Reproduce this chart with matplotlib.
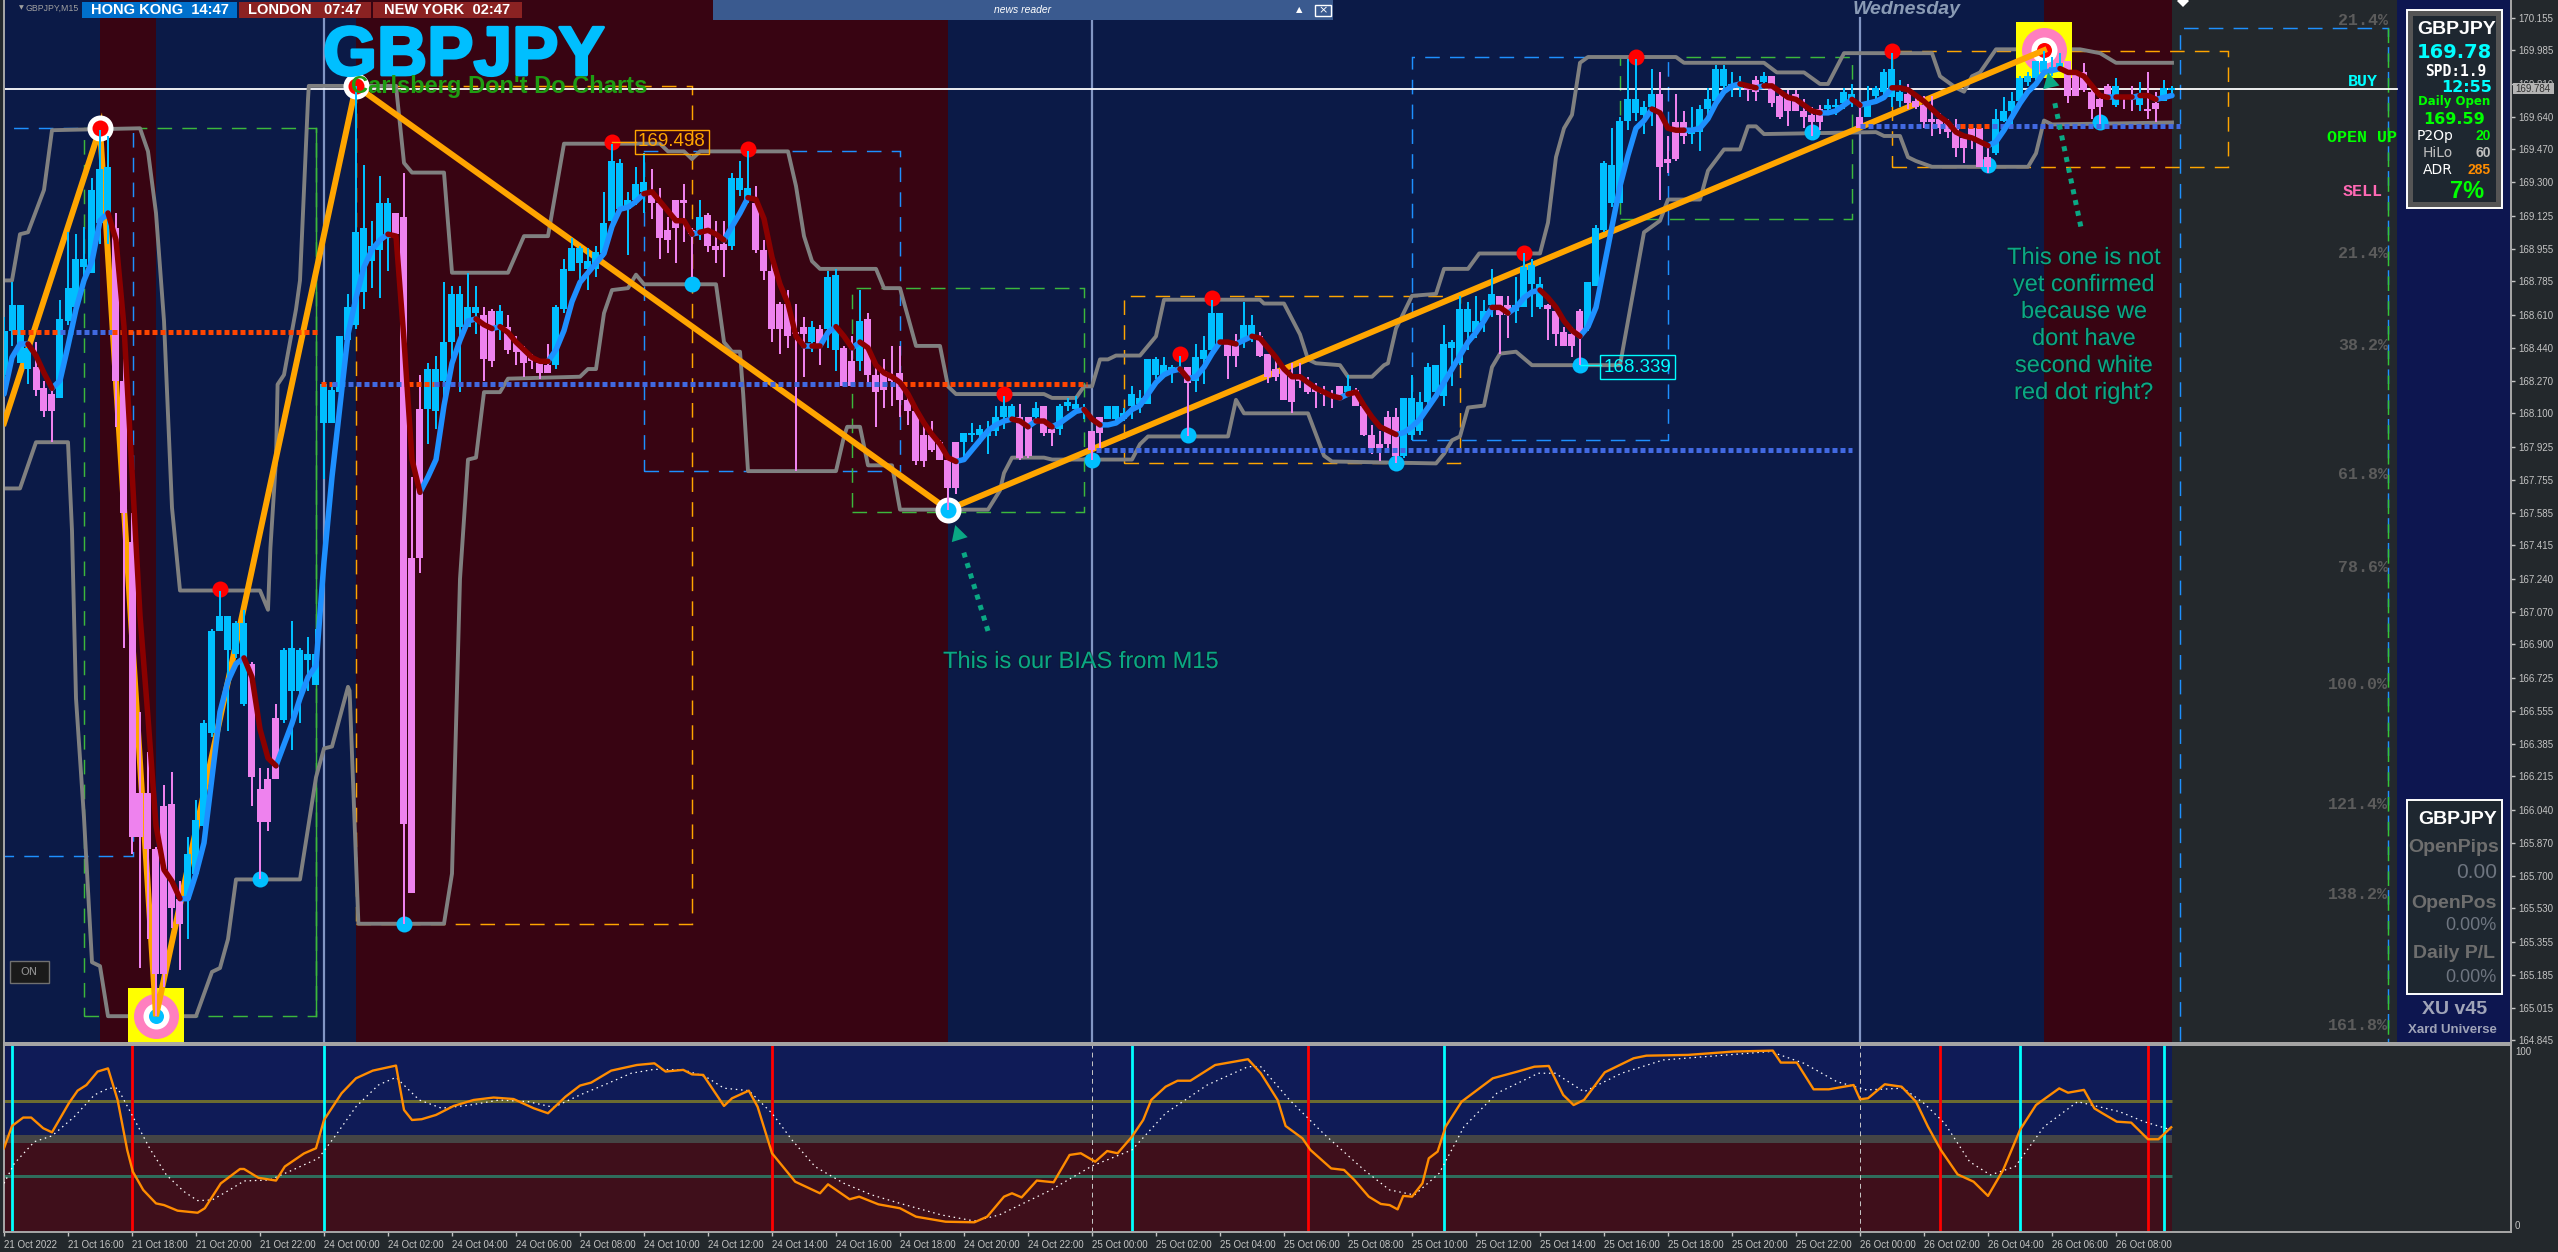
import numpy as np
import matplotlib
matplotlib.use("Agg")
import matplotlib.pyplot as plt
import matplotlib.patheffects as pe
from matplotlib.patches import Rectangle

W, H = 2558, 1252
PX = 0.72  # points per pixel at dpi 100

highs = [168.60,168.78,168.66,168.47,168.47,168.27,168.22,168.69,169.04,169.03,
 169.07,169.32,169.57,169.54,169.14,168.64,167.58,166.55,166.34,165.85,
 166.17,166.24,165.67,165.90,166.09,166.51,166.98,167.18,167.05,167.02,
 167.08,166.81,166.26,166.26,166.59,166.88,167.02,166.88,166.94,166.98,
 168.26,168.26,168.50,168.72,169.80,169.39,169.10,169.33,169.22,169.14,
 169.35,167.77,168.30,168.36,168.40,168.78,168.76,168.76,168.83,168.76,
 168.65,168.64,168.66,168.61,168.50,168.45,168.41,168.37,168.46,168.66,
 168.90,169.01,168.97,168.96,168.97,169.25,169.50,169.42,169.25,169.38,
 169.45,169.37,169.27,169.12,169.21,169.29,169.06,169.21,169.14,169.10,
 169.10,169.35,169.41,169.46,169.28,169.00,168.88,168.68,168.74,168.67,
 168.60,168.58,168.56,168.84,168.85,168.45,168.50,168.74,168.62,168.34,
 168.38,168.45,168.45,168.20,168.12,168.04,168.06,167.96,167.86,167.95,
 168.00,168.05,168.04,168.06,168.14,168.19,168.15,168.15,168.08,168.16,
 168.14,168.02,168.15,168.18,168.19,168.15,168.01,168.08,168.14,168.14,
 168.13,168.24,168.22,168.38,168.39,168.39,168.35,168.40,168.34,168.46,
 168.50,168.69,168.62,168.48,168.51,168.68,168.61,168.52,168.41,168.38,
 168.33,168.36,168.36,168.29,168.26,168.24,168.22,168.24,168.30,168.23,
 168.14,168.04,168.01,168.11,168.13,168.18,168.30,168.21,168.36,168.35,
 168.56,168.48,168.71,168.68,168.71,168.69,168.85,168.71,168.71,168.81,
 168.93,168.90,168.81,168.67,168.64,168.55,168.55,168.64,168.78,169.08,
 169.41,169.58,169.64,169.94,169.94,169.72,169.89,169.87,169.54,169.76,
 169.67,169.69,169.70,169.79,169.91,169.91,169.87,169.85,169.81,169.85,
 169.87,169.85,169.79,169.78,169.78,169.73,169.69,169.70,169.73,169.73,
 169.79,169.81,169.69,169.80,169.80,169.89,169.97,169.83,169.81,169.75,
 169.75,169.75,169.66,169.63,169.63,169.55,169.60,169.59,169.48,169.68,
 169.74,169.77,169.85,169.87,169.93,169.98,169.95,169.97,169.93,169.88,
 169.92,169.78,169.74,169.81,169.84,169.75,169.80,169.82,169.87,169.77,169.83,169.80]

body_tops = [168.53,168.66,168.66,168.44,168.34,168.23,168.20,168.59,168.75,168.90,
 168.90,169.26,169.37,169.38,169.06,168.27,167.43,166.13,166.13,165.84,
 166.06,166.07,165.58,165.81,165.99,166.49,166.97,167.05,167.05,167.01,
 167.01,166.80,166.15,166.20,166.52,166.87,166.88,166.87,166.85,166.85,
 168.25,168.22,168.50,168.65,169.04,169.06,168.97,169.19,169.19,169.14,
 169.12,167.35,168.12,168.33,168.33,168.47,168.72,168.72,168.65,168.65,
 168.61,168.63,168.63,168.55,168.47,168.43,168.39,168.36,168.35,168.65,
 168.85,168.96,168.96,168.89,168.94,169.09,169.41,169.40,169.21,169.29,
 169.30,169.25,169.19,169.05,169.21,169.21,169.05,169.12,169.13,168.97,
 168.98,169.32,169.32,169.27,169.19,168.95,168.84,168.67,168.67,168.52,
 168.55,168.55,168.54,168.81,168.82,168.44,168.37,168.58,168.59,168.30,
 168.32,168.29,168.31,168.17,168.11,167.99,167.99,167.95,167.86,167.95,
 168.00,168.00,168.02,168.01,168.08,168.14,168.14,168.08,168.08,168.13,
 168.14,168.02,168.14,168.16,168.15,168.12,168.01,168.08,168.14,168.14,
 168.10,168.20,168.18,168.38,168.38,168.35,168.34,168.33,168.34,168.39,
 168.43,168.62,168.62,168.46,168.46,168.56,168.56,168.50,168.41,168.33,
 168.33,168.30,168.29,168.26,168.23,168.21,168.20,168.24,168.24,168.22,
 168.14,167.99,167.94,168.08,168.08,168.18,168.18,168.16,168.34,168.35,
 168.46,168.47,168.64,168.64,168.58,168.63,168.72,168.71,168.66,168.66,
 168.86,168.87,168.77,168.66,168.63,168.52,168.51,168.63,168.78,169.06,
 169.40,169.39,169.62,169.73,169.73,169.69,169.76,169.76,169.42,169.61,
 169.61,169.58,169.68,169.73,169.89,169.89,169.81,169.82,169.80,169.83,
 169.85,169.85,169.75,169.74,169.76,169.67,169.65,169.68,169.70,169.70,
 169.77,169.76,169.64,169.71,169.79,169.87,169.89,169.77,169.76,169.72,
 169.70,169.63,169.63,169.61,169.58,169.53,169.58,169.58,169.43,169.63,
 169.67,169.72,169.84,169.85,169.93,169.93,169.90,169.92,169.93,169.87,
 169.87,169.77,169.73,169.80,169.80,169.74,169.75,169.76,169.68,169.71,169.79,169.79]

body_bottoms = [168.30,168.53,168.36,168.33,168.22,168.11,168.11,168.18,168.58,168.65,
 168.86,168.83,169.09,169.11,168.27,167.58,165.90,165.90,165.84,165.19,
 165.19,165.53,165.45,165.58,165.71,165.96,166.44,166.97,166.87,166.85,
 166.59,166.21,165.98,165.98,166.20,166.51,166.66,166.66,166.82,166.69,
 168.05,168.05,168.21,168.48,168.56,168.73,168.89,168.95,169.01,169.03,
 165.97,165.61,167.35,168.12,168.11,168.27,168.47,168.55,168.55,168.62,
 168.38,168.37,168.56,168.43,168.42,168.36,168.37,168.31,168.31,168.35,
 168.64,168.84,168.88,168.85,168.85,168.93,169.10,169.16,169.16,169.21,
 169.25,169.19,169.01,169.00,169.06,169.19,169.03,169.05,168.97,168.95,
 168.95,168.97,169.26,169.21,168.95,168.84,168.54,168.54,168.50,168.51,
 168.51,168.47,168.46,168.54,168.43,168.24,168.24,168.37,168.30,168.21,
 168.22,168.27,168.17,168.11,167.85,167.85,167.91,167.86,167.71,167.71,
 167.95,167.99,167.99,167.98,168.01,168.08,168.08,167.87,167.88,168.08,
 168.00,168.00,168.02,168.14,168.12,168.11,167.91,168.00,168.07,168.07,
 168.07,168.14,168.15,168.15,168.30,168.30,168.32,168.32,168.26,168.27,
 168.38,168.43,168.46,168.40,168.40,168.48,168.50,168.40,168.29,168.29,
 168.17,168.16,168.27,168.21,168.21,168.20,168.19,168.18,168.21,168.14,
 167.99,167.92,167.92,167.94,167.88,167.88,167.99,168.01,168.16,168.21,
 168.19,168.44,168.36,168.52,168.52,168.58,168.66,168.61,168.61,168.63,
 168.65,168.77,168.65,168.64,168.51,168.45,168.45,168.51,168.55,168.76,
 169.05,169.19,169.19,169.62,169.66,169.65,169.69,169.38,169.40,169.42,
 169.54,169.55,169.56,169.68,169.72,169.80,169.80,169.79,169.78,169.77,
 169.82,169.71,169.64,169.67,169.67,169.64,169.61,169.61,169.68,169.69,
 169.71,169.71,169.58,169.64,169.75,169.77,169.74,169.72,169.71,169.69,
 169.61,169.61,169.58,169.56,169.48,169.48,169.53,169.38,169.38,169.45,
 169.62,169.67,169.72,169.82,169.84,169.87,169.87,169.89,169.75,169.75,
 169.78,169.68,169.69,169.74,169.70,169.73,169.73,169.70,169.67,169.68,169.72,169.78]

lows = [168.20,168.45,168.36,168.25,168.19,168.08,167.95,168.18,168.56,168.64,
 168.76,168.83,168.98,168.98,168.03,166.88,165.81,165.22,165.37,164.97,
 165.12,165.43,165.21,165.37,165.68,165.90,166.42,166.97,166.45,166.83,
 166.58,166.06,165.68,165.93,166.20,166.49,166.35,166.49,166.66,166.69,
 167.76,168.05,168.21,168.48,168.54,168.64,168.75,168.70,168.84,169.03,
 165.45,165.61,167.27,167.94,168.02,168.13,168.36,168.21,168.55,168.51,
 168.27,168.34,168.48,168.41,168.35,168.29,168.33,168.28,168.31,168.33,
 168.62,168.84,168.80,168.74,168.81,168.91,169.09,169.16,168.92,169.18,
 169.14,169.11,168.90,168.93,168.88,168.99,168.81,169.00,168.94,168.88,
 168.81,168.95,169.23,169.19,168.93,168.79,168.47,168.41,168.44,167.80,
 168.29,168.42,168.35,168.44,168.32,168.24,168.24,168.32,168.26,168.03,
 168.13,168.14,168.08,168.04,167.83,167.82,167.90,167.86,167.60,167.68,
 167.85,167.95,167.94,167.89,167.98,168.02,168.07,167.86,167.87,168.07,
 167.98,167.93,167.99,168.11,168.10,168.07,167.86,167.92,168.07,168.06,
 168.06,168.07,168.10,168.15,168.28,168.29,168.26,168.31,167.98,168.21,
 168.25,168.43,168.46,168.28,168.34,168.44,168.47,168.39,168.26,168.27,
 168.17,168.10,168.23,168.20,168.13,168.14,168.13,168.17,168.20,168.14,
 167.98,167.89,167.85,167.92,167.84,167.87,167.96,167.99,168.15,168.20,
 168.14,168.24,168.35,168.43,168.49,168.52,168.60,168.41,168.49,168.57,
 168.65,168.60,168.64,168.48,168.45,168.45,168.39,168.35,168.53,168.76,
 169.04,169.17,169.19,169.57,169.62,169.55,169.59,169.21,169.35,169.41,
 169.50,169.50,169.46,169.62,169.71,169.78,169.74,169.74,169.72,169.72,
 169.80,169.69,169.63,169.59,169.67,169.58,169.54,169.57,169.67,169.65,
 169.68,169.69,169.58,169.64,169.71,169.75,169.69,169.69,169.68,169.68,
 169.58,169.54,169.55,169.53,169.43,169.40,169.47,169.38,169.35,169.44,
 169.61,169.59,169.71,169.80,169.83,169.85,169.85,169.87,169.71,169.75,
 169.77,169.63,169.60,169.73,169.69,169.68,169.67,169.67,169.63,169.61,169.72,169.74]

bull_runs = [(0,3),(7,13),(23,30),(35,48),(53,59),(62,62),(69,80),(87,87),(91,93),(101,101),
             (103,104),(107,107),(120,126),(129,129),(132,135),(138,147),(149,152),(155,156),
             (168,168),(175,186),(189,192),(198,206),(211,217),(220,220),(228,231),(233,237),
             (249,257),(264,264),(267,267),(270,271)]

fast_ma = [168.20,168.39,168.46,168.46,168.40,168.31,168.23,168.27,168.45,168.64,
 168.79,168.89,169.10,169.14,169.00,168.55,167.80,167.05,166.52,165.96,
 165.73,165.67,165.58,165.58,165.71,165.87,166.21,166.55,166.71,166.80,
 166.83,166.73,166.46,166.31,166.27,166.38,166.49,166.62,166.73,166.79,
 167.33,167.77,168.14,168.51,168.70,168.86,168.95,169.00,169.03,169.02,
 168.48,167.86,167.69,167.77,167.86,168.14,168.36,168.48,168.58,168.59,
 168.56,168.54,168.55,168.52,168.47,168.43,168.39,168.37,168.37,168.43,
 168.53,168.68,168.78,168.83,168.88,168.93,169.07,169.16,169.17,169.20,
 169.24,169.25,169.20,169.15,169.10,169.10,169.03,169.04,169.05,169.03,
 169.00,169.07,169.14,169.22,169.21,169.11,168.91,168.77,168.67,168.50,
 168.45,168.45,168.45,168.52,168.55,168.50,168.44,168.47,168.44,168.35,
 168.31,168.29,168.26,168.20,168.12,168.05,167.99,167.94,167.87,167.85,
 167.86,167.91,167.96,168.01,168.04,168.06,168.07,168.06,168.03,168.06,
 168.06,168.03,168.05,168.08,168.11,168.12,168.07,168.04,168.04,168.05,
 168.08,168.12,168.14,168.20,168.26,168.30,168.32,168.33,168.28,168.29,
 168.34,168.41,168.47,168.47,168.46,168.48,168.50,168.49,168.44,168.39,
 168.33,168.29,168.29,168.26,168.23,168.21,168.19,168.18,168.20,168.21,
 168.14,168.08,168.03,168.01,167.99,168.00,168.03,168.07,168.13,168.19,
 168.26,168.33,168.40,168.47,168.52,168.58,168.65,168.65,168.62,168.65,
 168.70,168.73,168.74,168.70,168.65,168.58,168.53,168.50,168.55,168.65,
 168.86,169.07,169.28,169.44,169.58,169.62,169.68,169.66,169.58,169.57,
 169.57,169.57,169.58,169.63,169.71,169.77,169.80,169.81,169.80,169.79,
 169.80,169.80,169.77,169.74,169.73,169.70,169.67,169.66,169.66,169.67,
 169.70,169.73,169.70,169.71,169.72,169.74,169.79,169.79,169.78,169.75,
 169.72,169.68,169.64,169.61,169.56,169.54,169.53,169.51,169.49,169.51,
 169.57,169.64,169.71,169.77,169.81,169.87,169.88,169.89,169.87,169.87,
 169.85,169.80,169.75,169.74,169.74,169.74,169.74,169.75,169.75,169.73,169.74,169.75]

# bars where the line flips colour, starting on blue
ma_turns = [0,3,6,13,22,30,34,48,52,59,61,62,68,80,86,87,90,93,100,101,102,104,106,107,119,126,128,129,
            131,135,137,147,148,152,154,156,167,168,174,186,188,192,197,206,210,217,219,220,227,231,232,
            236,248,257,263,264,266,267,269,271]

upper_bars = [0,1,2,3,5,6,17,18,19,20,21,22,32,33,33.3,34,34.2,35,36.5,37,38,38.1,49,50,51,55,56,63,65,68,70,82,
 83,85,86,87,98,99,100,101,102,109,110,112,114,117,118,119,130,131,134,135,136,137,138,139,142,144,145,157,157.5,
 160,162,163,164,167,168,171,172.5,173,174,176,179,180,183,184.4,192,193,194,195,196,197,198,209,210,220,221.6,
 225,227,228,229.5,230,241,242,244,245,246,247,249,259.5,262,264,271]
upper_prices = [168.79,168.79,169.03,169.04,169.26,169.57,169.58,169.46,169.14,168.58,167.61,167.18,167.18,167.08,167.40,
 167.86,168.25,168.30,168.64,168.79,169.73,169.80,169.80,169.40,169.35,169.35,168.83,168.83,169.02,169.02,169.50,169.50,
 169.46,169.46,169.42,169.46,169.46,169.28,169.02,168.89,168.85,168.85,168.75,168.75,168.45,168.45,168.24,168.20,168.20,
 168.18,168.18,168.24,168.24,168.38,168.38,168.40,168.40,168.50,168.69,168.69,168.67,168.67,168.51,168.38,168.36,168.35,
 168.29,168.29,168.35,168.36,168.54,168.71,168.72,168.85,168.85,168.93,168.93,169.09,169.43,169.58,169.65,169.92,169.95,
 169.95,169.92,169.92,169.87,169.87,169.81,169.81,169.93,169.97,169.97,169.85,169.79,169.77,169.85,169.87,169.99,169.99,
 169.97,169.92,169.92]

lower_bars = [0,2,4,8,8.5,9,10,11,12,13,24,26,27,28,29,37,39,40,41,43,43.2,44,44.3,55,56,57,58,59,60,62,63,72,73,74,75,76,78,79,
 80,89,90,91,92,92.4,93,104,105,105.4,107,108,111,112,123,124.5,125,126,130,131,141,142,143,153,154,155,163,165,166,179,180,181,
 182,183,185,186,187,189,191,202,205,207,208,212,213,215,217,218,219,220,234,235,237,238,239,241,253,254,255,256,271]
lower_prices = [167.71,167.71,167.95,167.95,167.49,166.62,166.00,165.25,165.23,164.97,164.97,165.20,165.22,165.37,165.68,
 165.68,166.21,166.36,166.37,166.68,166.66,165.78,165.45,165.45,165.71,167.24,167.86,167.87,168.21,168.21,168.28,168.29,168.33,
 168.33,168.62,168.74,168.75,168.82,168.77,168.77,168.47,168.42,168.42,168.20,167.80,167.80,167.98,168.03,168.03,167.83,167.83,
 167.60,167.60,167.70,167.79,167.87,167.87,167.86,167.86,167.94,167.98,167.98,168.17,168.10,168.10,167.88,167.85,167.84,167.89,
 167.96,167.98,168.13,168.14,168.34,168.41,168.42,168.35,168.35,169.04,169.10,169.21,169.21,169.36,169.47,169.47,169.59,169.59,
 169.55,169.56,169.54,169.54,169.43,169.41,169.38,169.38,169.45,169.62,169.60,169.61]

zig_bars = [0,12,19,44,118,255]
zig_prices = [168.05,169.58,164.97,169.80,167.60,169.985]

red_dot_bars = [27,76,93,125,147,151,190,204,236]
red_dot_prices = [167.19,169.51,169.47,168.20,168.41,168.70,168.93,169.95,169.98]
blue_dot_bars = [32,50,86,136,148,174,197,226,248,262]
blue_dot_prices = [165.68,165.45,168.77,167.86,167.99,167.84,168.35,169.56,169.39,169.61]
ring_red_bars = [12,44]
ring_red_prices = [169.58,169.80]
ring_blue_bars = [118]
ring_blue_prices = [167.60]

level_starts = [1,7,13.5,39.6,41,50.5,53.7,112.2,136.5,232,244.5,248.5]
level_ends = [7,13.5,39.5,41,50.5,53.7,112.2,135.4,231,244.5,248.5,272]
level_prices = [168.52,168.52,168.52,168.25,168.25,168.25,168.25,168.25,167.91,169.59,169.59,169.59]
level_hot = [True,False,True,True,False,True,False,True,False,False,True,False]

box_left = [10,-1,44,80,106,140,176,202,236,272]
box_right = [39,16.1,86,112,135,182,208,231,278,298]
box_top = [169.58,169.58,169.80,169.46,168.75,168.71,169.95,169.95,169.98,170.10]
box_bottom = [164.97,165.80,165.45,167.80,167.59,167.84,167.96,169.11,169.38,164.70]
box_color = ['#3cb83c','#1e90ff','#ffa500','#1e90ff','#3cb83c','#ffa500','#1e90ff','#3cb83c','#ffa500','#1e90ff']

maroon_spans = [(12,19),(44,118),(255,271)]
day_lines = [40,136,232]

price_ticks = [170.155,169.985,169.810,169.640,169.470,169.300,169.125,168.955,168.785,168.610,168.440,168.270,
 168.100,167.925,167.755,167.585,167.415,167.240,167.070,166.900,166.725,166.555,166.385,166.215,166.040,
 165.870,165.700,165.530,165.355,165.185,165.015,164.845]
time_labels = ['21 Oct 2022','21 Oct 16:00','21 Oct 18:00','21 Oct 20:00','21 Oct 22:00',
 '24 Oct 00:00','24 Oct 02:00','24 Oct 04:00','24 Oct 06:00','24 Oct 08:00','24 Oct 10:00','24 Oct 12:00',
 '24 Oct 14:00','24 Oct 16:00','24 Oct 18:00','24 Oct 20:00','24 Oct 22:00',
 '25 Oct 00:00','25 Oct 02:00','25 Oct 04:00','25 Oct 06:00','25 Oct 08:00','25 Oct 10:00','25 Oct 12:00',
 '25 Oct 14:00','25 Oct 16:00','25 Oct 18:00','25 Oct 20:00','25 Oct 22:00',
 '26 Oct 00:00','26 Oct 02:00','26 Oct 04:00','26 Oct 06:00','26 Oct 08:00']

fib_labels = ['21.4%','21.4%','38.2%','61.8%','78.6%','100.0%','121.4%','138.2%','161.8%']
fib_prices = [170.14,168.93,168.45,167.78,167.30,166.69,166.07,165.60,164.92]

stoch_bars = [0,1,2.4,3.4,4.9,6,8.1,9.2,10.3,11.7,13,14.2,15.4,16.1,17.4,19,20,21.7,24.2,25.1,27.1,29.5,30,31.8,34,35.1,37.5,39,
 40,42.2,44,46.1,49,50,51,52.2,54,56.2,58.7,61.2,63.7,66.2,68,70.2,72,73.4,75.9,79.1,81.3,82.7,84.9,86,87.4,90,91,93.1,94.2,96,
 98.9,102,103,105.7,106.9,109.3,112,114,117.7,121.3,122.9,125,126,127.2,129.1,131.2,133.2,134.6,136.4,137.9,139.2,141,142.4,143.4,
 145.2,146.7,148.3,151.4,155.5,157.1,159.2,160.2,162.3,163.3,165.9,167.5,168.8,170.6,172.1,173.2,174.2,174.9,176,177.3,178.1,179.2,
 180.2,182.2,186.1,189.2,191.3,193.1,194.9,196.2,197.5,200.1,203.7,205.3,210.5,216.2,221.1,222.1,224.1,226.2,228.1,231.2,232,233,
 235.1,237.2,239,240.5,242.1,244.2,246.2,248,249.9,252,254,256.9,258,260,261.3,262.3,264.1,265.9,268,269.3,270.9]
stoch_main = [44.8,56.7,61.2,61.2,55.5,53.3,68.8,75.6,78.6,85.8,87.5,70.6,43.9,32.3,22.5,15.3,14.4,11.4,10.3,12.7,26,33.7,33.7,29,27.5,35,42,44.8,
 59.9,74.2,82.2,86.3,89,65.3,59.9,60.3,62.6,67.4,70.6,71.9,71.1,66.2,63.5,72.4,78.3,79.9,86.3,89.3,90.2,85.8,86.7,84.3,84,67.4,71.5,75.6,67,42.1,
 26.9,20.7,25.5,17.5,18.9,14.8,12.7,8.2,5.5,5.2,8.2,18.9,20.7,18.5,27.5,26.6,41.2,42.1,37.6,43.3,42.1,51,59.9,70.6,
 77.7,80.9,80.9,89.3,92.4,84.9,70.6,56.7,50.1,43.9,34,33.2,27.8,18.9,15,14.4,12.1,19.3,18.9,26,39.4,43,
 56.3,69.7,82.2,85.8,88.4,88.8,73.3,67.9,70.6,85.4,92.9,94.3,94.7,96.5,97,90.6,90.6,76.3,76.3,78.6,71,71.5,
 79,77.7,69.7,56.3,43.9,30.8,26.9,19.3,33.2,54.6,67.9,76.8,74.5,76,66.1,63.5,59,58.5,49.6,49.6,56]

signal_bars = [0,1.3,3.8,6,8.8,11.3,13.1,14.2,16,18.2,20.3,22.5,24.2,26,28.2,30,33.2,36.1,39.3,41.5,44,46.8,49,51.9,54.7,58.3,61.9,65.5,68.7,72,
 75.5,78.4,81.3,84.9,87.7,90,93.1,96,98.5,101.4,105,108.5,112,117.2,121.3,124.4,130.7,136,141,145.2,150.4,155.5,157.1,160.7,164.9,170,173.2,
 176.3,179.4,182.5,186.6,191.8,193.9,197.5,202.2,207.4,220.8,225,229.1,232.8,237.4,240,242.6,245.7,248.3,251.4,255,259.2,264.4,267.5,270.9]
signal_vals = [26,36.7,48.3,51.4,61.7,73.3,76.9,76.9,62.6,44.8,30.5,21.6,16.8,17.1,22.5,27.3,27.8,33.2,39.4,51.9,67,78.6,82.7,70.6,66.2,67.9,70.6,69.7,66.7,73.3,
 79.5,84.9,87,86.7,83.1,76.9,75.6,63.5,49.2,34.9,26,19.8,15.3,9.1,5.9,9.1,22.1,35.3,43.9,63.5,78.6,88.4,88.4,70.6,52.8,33.2,22.5,
 19.8,31.4,56.3,74.2,84.9,84.9,75,84.9,92,96.5,90.2,80.4,76,76.9,68.8,58.1,37.6,30.5,35,56.3,69.7,64.4,59,54.6]

cross_up_bars = [1,40,141,180,252,270]
cross_down_bars = [16,96,163,242,268]

BG = '#23282c'
NAVY = '#0b1a47'
MAROON = '#380412'
GREY = '#a8a8a8'
SANS = 'Liberation Sans'
MONO = 'Liberation Mono'

plt.rcParams['font.family'] = SANS
fig = plt.figure(figsize=(W / 100, H / 100), dpi=100, facecolor=BG)
ax = fig.add_axes([4 / W, 1 - 1043 / H, 2507 / W, 1043 / H], facecolor=BG)
ax2 = fig.add_axes([4 / W, 1 - 1232 / H, 2507 / W, 187 / H], facecolor=BG)
XMAX = 2507 / 8

def put(x, y, s, **kw):
    kw.setdefault('va', 'center')
    kw.setdefault('zorder', 30)
    return fig.text(x / W, 1 - y / H, s, **kw)

def panel(x0, y0, x1, y1, **kw):
    kw.setdefault('zorder', 20)
    fig.add_artist(Rectangle((x0 / W, 1 - y1 / H), (x1 - x0) / W, (y1 - y0) / H, transform=fig.transFigure, **kw))

# main chart
ax.set_xlim(0, XMAX)
ax.set_ylim(170.246 - 1043 * 0.005192, 170.246)
ax.axvspan(0, 271, color=NAVY, lw=0, zorder=0)
ax.axvspan(299.1, XMAX, color='#0d1650', lw=0, zorder=0)
for a, b in maroon_spans:
    ax.axvspan(a, b, color=MAROON, lw=0, zorder=0.5)

for i in range(len(box_left)):
    ax.add_patch(Rectangle((box_left[i], box_bottom[i]), box_right[i] - box_left[i], box_top[i] - box_bottom[i],
                           fill=False, ec=box_color[i], lw=1.05, ls=(0, (10, 7)), zorder=1))
ax.plot([39, 39], [169.58, 164.97], color='#3cb83c', lw=1.05, zorder=1.1)
ax.plot([298, 298], [170.10, 164.70], color='#35c435', lw=1.05, ls=(0, (10, 7)), zorder=1.1)

for d in day_lines:
    ax.plot([d, d], [170.155, 164.7], color='#8296c4', lw=1.6, zorder=1.2)
ax.axhline(169.784, xmax=299.1 / XMAX, color='white', lw=1.3, zorder=1.3)

ax.plot(upper_bars, upper_prices, color='#808080', lw=2.8, zorder=2)
ax.plot(lower_bars, lower_prices, color='#808080', lw=2.8, zorder=2)

# yellow target boxes
for b, p, c in [(19, 164.97, '#00bfff'), (255, 169.985, '#ff0000')]:
    ax.plot(b, p, 's', ms=56 * PX, color='#ffff00', mew=0, zorder=2.5)
    ax.plot(b, p, 'o', ms=45 * PX, color='#ff7fbf', mew=0, zorder=2.6)
    ax.plot(b, p, 'o', ms=26 * PX, color='white', mew=0, zorder=2.7)
    ax.plot(b, p, 'o', ms=15 * PX, color=c, mew=0, zorder=2.8)

ax.plot(red_dot_bars, red_dot_prices, 'o', ms=16 * PX, color='#ff0000', mew=0, zorder=3)
ax.plot(blue_dot_bars, blue_dot_prices, 'o', ms=16 * PX, color='#00bfff', mew=0, zorder=3)
ax.plot(zig_bars, zig_prices, color='#ffa500', lw=6 * PX, zorder=3.5, solid_joinstyle='miter')

ax.plot(ring_red_bars, ring_red_prices, 'o', ms=26 * PX, color='white', mew=0, zorder=3.6)
ax.plot(ring_red_bars, ring_red_prices, 'o', ms=16 * PX, color='#ff0000', mew=0, zorder=3.7)
ax.plot(ring_blue_bars, ring_blue_prices, 'o', ms=26 * PX, color='white', mew=0, zorder=3.6)
ax.plot(ring_blue_bars, ring_blue_prices, 'o', ms=16 * PX, color='#00bfff', mew=0, zorder=3.7)

# candles
bars_x = np.arange(len(highs))
is_bull = np.zeros(len(highs), dtype=bool)
for a, b in bull_runs:
    is_bull[a:b + 1] = True
candle_colors = np.where(is_bull, '#00bfff', '#ee82ee')
ax.vlines(bars_x, lows, highs, colors=candle_colors, lw=2 * PX, zorder=4)
tops = np.array(body_tops)
bots = np.array(body_bottoms)
ax.bar(bars_x, np.maximum(tops - bots, 0.005), bottom=bots, width=7 / 8, color=candle_colors, lw=0, zorder=4.1,
       antialiased=False)

# dotted levels
for i in range(len(level_starts)):
    col = '#ff4500' if level_hot[i] else '#4169e1'
    ax.plot([level_starts[i], level_ends[i]], [level_prices[i]] * 2, color=col, lw=5 * PX, ls=(0, (1, 0.6)),
            dash_capstyle='butt', zorder=4.5)

# fast average, blue and dark red legs
for k in range(len(ma_turns) - 1):
    a, b = ma_turns[k], ma_turns[k + 1]
    col = '#1e90ff' if k % 2 == 0 else '#8b0000'
    ax.plot(bars_x[a:b + 1], fast_ma[a:b + 1], color=col, lw=5.5 * PX, solid_capstyle='round', zorder=5 if k % 2 == 0 else 5.1)

# price tags
ax.plot([76, 79], [169.51, 169.51], color='#ffa500', lw=1, zorder=3)
ax.plot([197, 199.6], [168.35, 168.35], color='#00ffff', lw=1, zorder=3)
tag = dict(fontsize=13.5, va='center', ha='center', zorder=6)
ax.text(83.5, 169.51, '169.498', color='#ffa500', bbox=dict(fc='none', ec='#ffa500', lw=1, pad=2.5), **tag)
ax.text(204.2, 168.34, '168.339', color='#00ffff', bbox=dict(fc='none', ec='#00ffff', lw=1, pad=2.5), **tag)

# dotted arrows
TEAL = '#0aa884'
for tail, mid, tip in [((123, 166.97), (119.8, 167.40), (118.9, 167.52)), ((259.6, 169.07), (256.2, 169.74), (255.5, 169.87))]:
    ax.plot([tail[0], mid[0]], [tail[1], mid[1]], color=TEAL, lw=5 * PX, ls=(0, (1, 1.2)), dash_capstyle='butt', zorder=6)
    ax.annotate('', xy=tip, xytext=mid, zorder=6,
                arrowprops=dict(arrowstyle='-|>,head_length=1.1,head_width=0.6', color=TEAL, lw=0, shrinkA=0, shrinkB=0))

for s, p in zip(fib_labels, fib_prices):
    ax.text(298, p, s, family=MONO, fontweight='bold', fontsize=12, color='#5c5c5c', ha='right', va='center', zorder=6)
ax.plot(272.4, 170.24, 'D', ms=6, color='white', mew=0, zorder=6, clip_on=True)

ax.spines['top'].set_visible(False)
for s in ['left', 'right', 'bottom']:
    ax.spines[s].set_color(GREY)
    ax.spines[s].set_linewidth(1.4)
ax.set_xticks([])
ax.yaxis.tick_right()
ax.set_yticks(price_ticks)
ax.set_yticklabels([f'{v:.3f}' for v in price_ticks])
ax.tick_params(axis='y', colors='#c4c4c4', labelsize=7, length=3, width=1, pad=2)

# oscillator
ax2.set_xlim(0, XMAX)
ax2.set_ylim(0, 100)
ax2.axvspan(0, 271, ymin=0.5, ymax=1, color='#0f1b57', lw=0, zorder=0)
ax2.axvspan(0, 271, ymin=0, ymax=0.5, color='#3f0f1b', lw=0, zorder=0)
ax2.plot([0, 271], [50, 50], color='#454545', lw=8 * PX, solid_capstyle='butt', zorder=1)
ax2.plot([0, 271], [70, 70], color='#6c6c30', lw=3 * PX, solid_capstyle='butt', zorder=1)
ax2.plot([0, 271], [30, 30], color='#2f6d5c', lw=3 * PX, solid_capstyle='butt', zorder=1)
for d in day_lines[1:]:
    ax2.axvline(d, color='#c8c8c8', lw=0.7, ls=(0, (5, 4)), zorder=1.2)
ax2.vlines(cross_up_bars, 0, 100, color='#00ffff', lw=2, zorder=2)
ax2.vlines(cross_down_bars, 0, 100, color='#ff0000', lw=2, zorder=2)
ax2.plot(signal_bars, signal_vals, color='white', lw=0.9, ls=(0, (1.2, 3)), zorder=3)
ax2.plot(stoch_bars, stoch_main, color='#ff8c00', lw=1.7, zorder=4)
for s in ax2.spines.values():
    s.set_color(GREY)
    s.set_linewidth(1.4)
ax2.set_yticks([])
ax2.set_xticks(np.arange(len(time_labels)) * 8)
ax2.set_xticklabels(time_labels, ha='left')
ax2.tick_params(axis='x', colors='#c4c4c4', labelsize=7, length=3, width=1, pad=3)
put(2515, 1052, '100', color='#c4c4c4', fontsize=7)
put(2515, 1226, '0', color='#c4c4c4', fontsize=7)

# top-left strip
put(19, 8, '\u25bc', color='#a0a0a0', fontsize=4.5, family='DejaVu Sans')
put(26, 8, 'GBPJPY,M15', color='#a0a0a0', fontsize=6.3)
for x0, x1, col, s in [(82, 237, '#0070cc', 'HONG KONG  14:47'), (239, 371, '#8b2222', 'LONDON   07:47'), (373, 522, '#8b2222', 'NEW YORK  02:47')]:
    panel(x0, 2, x1, 18, fc=col, ec='none')
    put((x0 + x1) / 2, 10, s, color='white', fontsize=10.5, fontweight='bold', ha='center')
panel(713, 0, 1333, 20, fc='#3a5a8f', ec='none')
put(1023, 10, 'news reader', color='white', fontsize=7.5, style='italic', ha='center')
put(1299, 10, '\u25b2', color='white', fontsize=6, ha='center', family='DejaVu Sans')
panel(1315, 5, 1331, 16, fc='#3a5a8f', ec='white', lw=1)
put(1323, 10, '\u00d7', color='white', fontsize=8, ha='center', family='DejaVu Sans')

put(464, 75, 'GBPJPY', color='#00bfff', fontsize=50, fontweight='bold', ha='center', va='baseline', zorder=15,
    path_effects=[pe.SimpleLineShadow(offset=(2, -2), shadow_color='black', alpha=0.9),
                  pe.Stroke(linewidth=2, foreground='#00bfff'), pe.Normal()])
put(499, 87, "Carlsberg Don't Do Charts", color='#1f9d12', fontsize=17, fontweight='bold', ha='center', zorder=15)
put(1907, 9, 'Wednesday', color='#8a9bb5', fontsize=14, fontweight='bold', style='italic', ha='center', zorder=15)

shadow = [pe.withStroke(linewidth=1.5, foreground='#10141c', alpha=0.5)]
put(1081, 662, 'This is our BIAS from M15', color=TEAL, fontsize=17, ha='center', path_effects=shadow)
note_lines = ['This one is not', 'yet confirmed', 'because we', 'dont have', 'second white', 'red dot right?']
for k, line in enumerate(note_lines):
    put(2084, 258 + k * 27, line, color=TEAL, fontsize=17, ha='center', path_effects=shadow)

put(2363, 82, 'BUY', color='#00ffff', fontsize=12, fontweight='bold', family=MONO, ha='center')
put(2362, 137, 'OPEN UP', color='#00ff00', fontsize=12, fontweight='bold', family=MONO, ha='center')
put(2363, 192, 'SELL', color='#ff69b4', fontsize=12, fontweight='bold', family=MONO, ha='center')

panel(10, 961, 49, 983, fc='#1a1a1a', ec='#707070', lw=1)
put(29, 972, 'ON', color='#909090', fontsize=8, ha='center', family='DejaVu Sans')

# current price tag
panel(2513, 83, 2554, 94, fc='#b4b4b4', ec='none')
put(2533, 88.5, '169.784', color='#303030', fontsize=7, ha='center')

# info panel, top
panel(2407, 10, 2502, 208, fc='#555555', ec='white', lw=1.4)
panel(2413, 16, 2496, 202, fc='#1e2730', ec='none', zorder=21)
info = dict(fontweight='bold', ha='center', family='DejaVu Sans')
put(2457, 30, 'GBPJPY', color='white', fontsize=14, fontweight='bold', ha='center')
put(2454, 52, '169.78', color='#00ffff', fontsize=14, **info)
put(2456, 71, 'SPD:1.9', color='white', fontsize=10.5, fontweight='bold', family='DejaVu Sans Mono', ha='center')
put(2492, 87, '12:55', color='#00ffff', fontsize=11.5, fontweight='bold', family='DejaVu Sans', ha='right')
put(2454, 102, 'Daily Open', color='#00ff00', fontsize=8.5, **info)
put(2454, 119, '169.59', color='#00ff00', fontsize=11.5, **info)
put(2453, 136, 'P2Op', color='white', fontsize=10, ha='right', family='DejaVu Sans')
put(2491, 136, '20', color='#00ff00', fontsize=10, fontweight='bold', ha='right')
put(2453, 153, 'HiLo', color='#c0c0c0', fontsize=10, ha='right', family='DejaVu Sans')
put(2491, 153, '60', color='#c0c0c0', fontsize=10, fontweight='bold', ha='right')
put(2453, 170, 'ADR', color='white', fontsize=10, ha='right', family='DejaVu Sans')
put(2491, 170, '285', color='#ff8c00', fontsize=10, fontweight='bold', ha='right')
put(2484, 191, '7%', color='#00ff00', fontsize=17, fontweight='bold', ha='right')

# info panel, bottom
panel(2407, 800, 2502, 994, fc='#1e2730', ec='white', lw=1.4)
put(2458, 820, 'GBPJPY', color='white', fontsize=14, fontweight='bold', ha='center')
for y, s in [(847, 'OpenPips'), (903, 'OpenPos'), (953, 'Daily P/L')]:
    put(2454, y, s, color='#6e6e6e', fontsize=14, fontweight='bold', ha='center')
for y, s, fs in [(873, '0.00', 15), (926, '0.00%', 13), (977, '0.00%', 13)]:
    put(2497, y, s, color='#6e7580', fontsize=fs, ha='right')
put(2455, 1010, 'XU v45', color='#a0a4b8', fontsize=14, fontweight='bold', ha='center')
put(2452, 1030, 'Xard Universe', color='#a0a4b8', fontsize=9.5, fontweight='bold', ha='center')

fig.savefig('out.png', dpi=100, facecolor=BG)
